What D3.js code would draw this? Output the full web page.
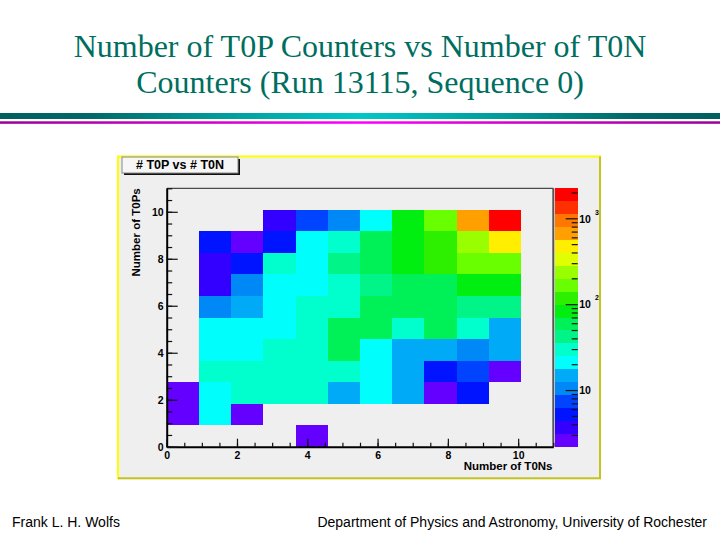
<!DOCTYPE html>
<html><head><meta charset="utf-8">
<script src="https://cdn.jsdelivr.net/npm/d3@7"></script>
<style>body{margin:0;background:#fff} svg{display:block}</style>
</head><body>
<svg id="c" width="720" height="540"></svg>
<script>
// ---------- data ----------
const titleLines = ["Number of T0P Counters vs Number of T0N", "Counters (Run 13115, Sequence 0)"];
const histTitle = "# T0P vs # T0N";
const xTitle = "Number of T0Ns";
const yTitle = "Number of T0Ps";
const footerLeft = "Frank L. H. Wolfs";
const footerRight = "Department of Physics and Astronomy, University of Rochester";

const nBins = 12;                 // 12 bins on each axis
const axisRange = [0, 11];        // axis range of both axes
const xTickLabels = [0, 2, 4, 6, 8, 10];
const yTickLabels = [0, 2, 4, 6, 8, 10];
const minorStep = 0.5;
const zRange = [2.19, 2234];      // colour-axis (log) range
const zTickValues = [10, 100, 1000];

// ROOT "pretty" palette, 20 contour levels (bottom -> top)
const palette = ["#6300ff","#3300ff","#0014ff","#0044ff","#0088f6","#00aaf6","#00fffc","#00ffcc","#00f488","#00f058",
                 "#00ee10","#2cf000","#69ff00","#99ff00","#e0ff00","#ffee00","#ffa000","#ff7700","#ff3000","#ff0000"];

// counts[j][i] : j = T0P bin (bottom row first), i = T0N bin
const counts = [
  [0, 0, 0, 0, 3, 0, 0, 0, 0, 0, 0],
  [3,21, 3, 0, 0, 0, 0, 0, 0, 0, 0],
  [3,22,28,30,27,15,20,14, 3, 5, 0],
  [0,29,31,33,30,28,21,15, 5, 7, 3],
  [0,20,22,27,30,58,19,14,16,10,14],
  [0,21,23,22,29,55,60,31,62,30,15],
  [0,10,15,19,27,30,56,64,60,42,40],
  [0, 4,10,22,23,32,44,57,63,85,92],
  [0, 4, 5,27,21,40,58,88,115,165,175],
  [0, 5, 3, 5,20,29,62,86,120,230,480],
  [0, 0, 0, 4, 7,11,22,82,170,650,1900]
];

// ---------- drawing ----------
const svg = d3.select("#c");
const defs = svg.append("defs");
const FONT = "'Liberation Sans', Arial, Helvetica, sans-serif";

// title
svg.append("g").selectAll("text").data(titleLines).join("text")
  .attr("x", 360).attr("y", (d, i) => 56.7 + i * 36.6)
  .attr("text-anchor", "middle")
  .attr("font-family", "'Liberation Serif', 'Times New Roman', serif")
  .attr("font-size", 32).attr("fill", "#006e5f")
  .text(d => d);

// separator bars
const g1 = defs.append("linearGradient").attr("id", "tealG");
[[0,"#005f5f"],[0.12,"#006868"],[0.3,"#009a9a"],[0.5,"#00c8c8"],[0.7,"#009a9a"],[0.88,"#006868"],[1,"#005f5f"]]
  .forEach(([o,c]) => g1.append("stop").attr("offset", o).attr("stop-color", c));
const g2 = defs.append("linearGradient").attr("id", "magG");
[[0,"#9a009a"],[0.3,"#d000d0"],[0.5,"#ff00ff"],[0.7,"#d000d0"],[1,"#9a009a"]]
  .forEach(([o,c]) => g2.append("stop").attr("offset", o).attr("stop-color", c));
svg.append("rect").attr("x", 0).attr("y", 113).attr("width", 720).attr("height", 6).attr("fill", "url(#tealG)");
svg.append("rect").attr("x", 0).attr("y", 121.3).attr("width", 720).attr("height", 2.5).attr("fill", "url(#magG)");

// canvas
const cv = {x0: 118, y0: 155.5, x1: 601, y1: 479.3};
svg.append("rect").attr("x", cv.x0).attr("y", cv.y0).attr("width", cv.x1 - cv.x0).attr("height", cv.y1 - cv.y0)
  .attr("fill", "#efefef");
svg.append("path").attr("d", `M${cv.x0},${cv.y1}V${cv.y0+1}H${cv.x1}`).attr("fill", "none")
  .attr("stroke", "#ffff00").attr("stroke-width", 2);
svg.append("path").attr("d", `M${cv.x1-1},${cv.y0+1}V${cv.y1-1}H${cv.x0}`).attr("fill", "none")
  .attr("stroke", "#c4c41c").attr("stroke-width", 2);

// scales
const x = d3.scaleLinear().domain(axisRange).range([166.7, 553.3]);
const y = d3.scaleLinear().domain(axisRange).range([446.7, 188.3]);
const bw = (axisRange[1] - axisRange[0]) / nBins;
const z = d3.scaleLog().domain(zRange).range([446.7, 188.3]);
const lz = [Math.log10(zRange[0]), Math.log10(zRange[1])];
const color = d3.scaleQuantize().domain(lz).range(palette);

// cells
const cells = [];
counts.forEach((row, j) => row.forEach((v, i) => { if (v > 0) cells.push({i, j, v}); }));
svg.append("g").selectAll("rect").data(cells).join("rect")
  .attr("x", d => x(d.i * bw))
  .attr("y", d => y((d.j + 1) * bw))
  .attr("width", d => x((d.i + 1) * bw) - x(d.i * bw))
  .attr("height", d => y(d.j * bw) - y((d.j + 1) * bw))
  .attr("fill", d => color(Math.log10(d.v)))
  .attr("shape-rendering", "crispEdges");

// frame (top & right)
svg.append("line").attr("x1", x(axisRange[0])).attr("x2", x(axisRange[1])).attr("y1", y(axisRange[1])).attr("y2", y(axisRange[1]))
  .attr("stroke", "#222").attr("stroke-width", 1);
svg.append("line").attr("x1", x(axisRange[1])).attr("x2", x(axisRange[1])).attr("y1", y(axisRange[1])).attr("y2", y(axisRange[0]))
  .attr("stroke", "#555").attr("stroke-width", 2);

const minorVals = d3.range(axisRange[0], axisRange[1] + 1e-9, minorStep);

function styleAxis(g, fs) {
  g.selectAll("text").attr("font-family", FONT).attr("font-weight", "bold").attr("font-size", fs).attr("fill", "#000");
  g.selectAll(".tick line").attr("stroke", "#111").attr("stroke-width", 1.2);
}

// x axis
const gxMinor = svg.append("g").attr("transform", `translate(0,${y(axisRange[0])})`)
  .call(d3.axisBottom(x).tickValues(minorVals).tickSize(-4).tickSizeOuter(0).tickFormat(""));
gxMinor.select(".domain").remove();
const gx = svg.append("g").attr("transform", `translate(0,${y(axisRange[0])})`)
  .call(d3.axisBottom(x).tickValues(xTickLabels).tickSize(-8).tickSizeOuter(0).tickFormat(d3.format("d")));
styleAxis(gxMinor, 10.5); styleAxis(gx, 10.5);
gx.selectAll("text").attr("y", 12.5).attr("dy", 0);
gx.select(".domain").attr("stroke", "#000").attr("stroke-width", 2);

// y axis
const gyMinor = svg.append("g").attr("transform", `translate(${x(axisRange[0])},0)`)
  .call(d3.axisLeft(y).tickValues(minorVals).tickSize(-5.5).tickSizeOuter(0).tickFormat(""));
gyMinor.select(".domain").remove();
const gy = svg.append("g").attr("transform", `translate(${x(axisRange[0])},0)`)
  .call(d3.axisLeft(y).tickValues(yTickLabels).tickSize(-11).tickSizeOuter(0).tickPadding(3).tickFormat(d3.format("d")));
styleAxis(gyMinor, 10.5); styleAxis(gy, 10.5);
gy.selectAll("text").attr("dy", "0.36em");
gy.select(".domain").attr("stroke", "#000").attr("stroke-width", 2);

// axis titles
svg.append("text").attr("x", 552.5).attr("y", 470).attr("text-anchor", "end")
  .attr("font-family", FONT).attr("font-weight", "bold").attr("font-size", 11.5).text(xTitle);
svg.append("text").attr("transform", `translate(140,${y(axisRange[1])}) rotate(-90)`).attr("text-anchor", "end")
  .attr("font-family", FONT).attr("font-weight", "bold").attr("font-size", 11.5).text(yTitle);

// colour bar
const barX0 = 555, barX1 = 577.7;
svg.append("g").selectAll("rect").data(palette).join("rect")
  .attr("x", barX0).attr("width", barX1 - barX0)
  .attr("y", c => z(Math.pow(10, color.invertExtent(c)[1])))
  .attr("height", c => z(Math.pow(10, color.invertExtent(c)[0])) - z(Math.pow(10, color.invertExtent(c)[1])))
  .attr("fill", c => c).attr("shape-rendering", "crispEdges");

const zMinor = z.ticks().filter(v => !zTickValues.includes(v));
const gzMinor = svg.append("g").attr("transform", `translate(${barX1},0)`)
  .call(d3.axisRight(z).tickValues(zMinor).tickSize(-6).tickSizeOuter(0).tickFormat(""));
gzMinor.select(".domain").remove();
const gz = svg.append("g").attr("transform", `translate(${barX1},0)`)
  .call(d3.axisRight(z).tickValues(zTickValues).tickSize(-12).tickSizeOuter(0).tickPadding(1.5).tickFormat(() => "10"));
gz.select(".domain").remove();
styleAxis(gzMinor, 10.5); styleAxis(gz, 10.5);
gz.selectAll("text").attr("dy", "0.36em").each(function(d) {
  const e = Math.round(Math.log10(d));
  if (e > 1) d3.select(this).append("tspan").attr("dx", 4).attr("dy", -8).attr("font-size", 7).text(e);
});

// histogram title box
const bx = 122, by = 157, bwid = 116, bh = 16;
svg.append("rect").attr("x", bx + 2).attr("y", by + 2).attr("width", bwid).attr("height", bh).attr("fill", "#111");
svg.append("rect").attr("x", bx).attr("y", by).attr("width", bwid).attr("height", bh)
  .attr("fill", "#f6f6f6").attr("stroke", "#888").attr("stroke-width", 1);
svg.append("text").attr("x", bx + bwid / 2).attr("y", by + 11.5).attr("text-anchor", "middle")
  .attr("font-family", FONT).attr("font-weight", "bold").attr("font-size", 12.5).text(histTitle);

// footer
svg.append("text").attr("x", 12).attr("y", 527).attr("font-family", FONT).attr("font-size", 14).text(footerLeft);
svg.append("text").attr("x", 707).attr("y", 527).attr("text-anchor", "end").attr("font-family", FONT).attr("font-size", 14).text(footerRight);
</script>
</body></html>
